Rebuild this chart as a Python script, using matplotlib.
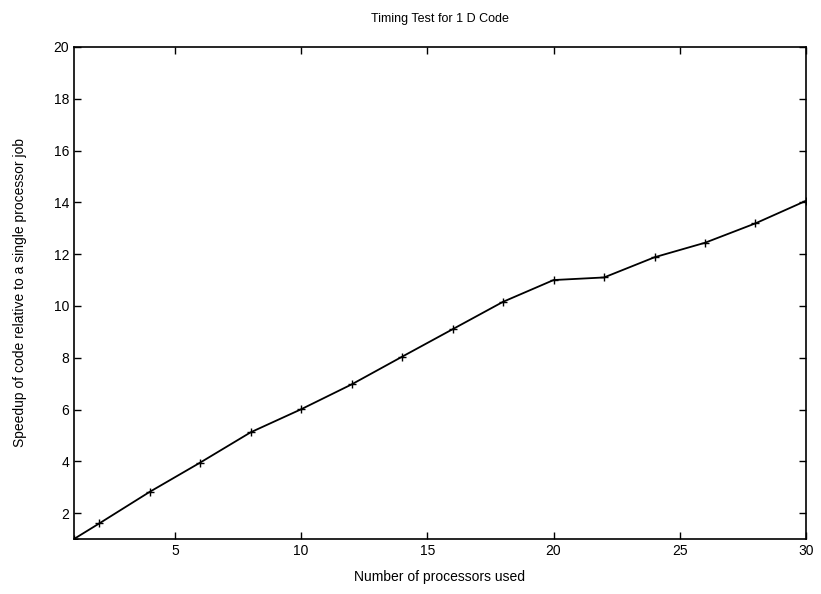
import matplotlib
matplotlib.use("Agg")
import matplotlib.pyplot as plt

# processors used vs speedup
procs = [1, 2, 4, 6, 8, 10, 12, 14, 16, 18, 20, 22, 24, 26, 28, 30]
speedup = [1.0, 1.6, 2.82, 3.95, 5.12, 6.01, 6.97, 8.04, 9.1, 10.16,
           11.0, 11.1, 11.88, 12.44, 13.19, 14.06]
xticks = [5, 10, 15, 20, 25, 30]
yticks = [2, 4, 6, 8, 10, 12, 14, 16, 18, 20]

plt.rcParams['font.family'] = ['Liberation Sans', 'DejaVu Sans']

fig = plt.figure(figsize=(8.21, 5.94), dpi=100)
ax = fig.add_axes([0.0901, 0.0926, 0.8916, 0.8283])
ax.plot(procs, speedup, color='black', linewidth=1.3, marker='+',
        markersize=6, markeredgewidth=1.0)
ax.set_xlim(1, 30)
ax.set_ylim(1, 20)
ax.set_xticks(xticks)
ax.set_yticks(yticks)
ax.tick_params(direction='in', top=True, right=True, length=5,
               labelsize=10, width=1)
for s in ax.spines.values():
    s.set_linewidth(1.2)
ax.set_xlabel('Number of processors used', fontsize=10, labelpad=9)
ax.set_ylabel('Speedup of code relative to a single processor job', fontsize=10, labelpad=19)
ax.set_title('Timing Test for 1 D Code', fontsize=9, pad=18)

fig.savefig('out.png', dpi=100)
